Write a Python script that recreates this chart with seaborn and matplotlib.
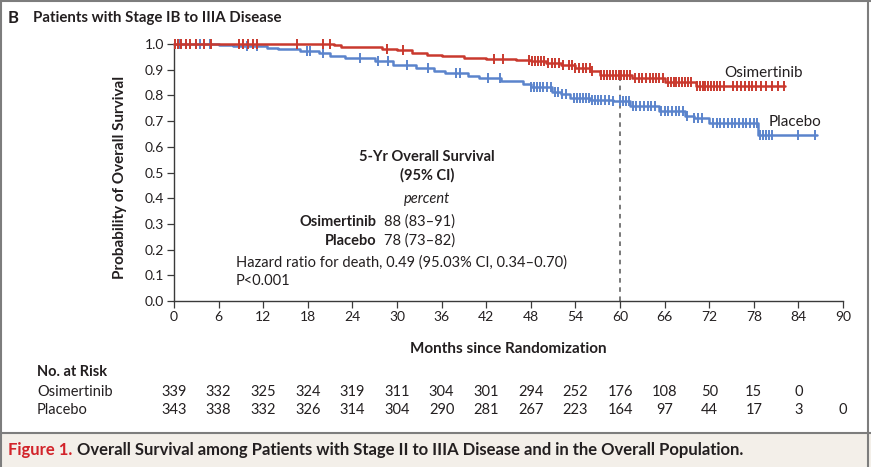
import numpy as np
import pandas as pd
import matplotlib
matplotlib.use("Agg")
import matplotlib.pyplot as plt
import matplotlib.transforms as mtransforms
from matplotlib.patches import Rectangle
from matplotlib.lines import Line2D
import seaborn as sns

# ---------------- data ----------------
osi_time = [0, 21.5, 22.5, 25, 28, 30, 32, 34, 36, 39, 42, 46, 48, 50, 52, 54, 56, 57.3, 61.6, 66, 70.2, 82.2]
osi_surv = [1.0, 0.996, 0.99, 0.987, 0.98, 0.975, 0.965, 0.957, 0.952, 0.947, 0.943, 0.938, 0.932, 0.926,
            0.918, 0.905, 0.895, 0.879, 0.866, 0.852, 0.836, 0.836]
pla_time = [0, 6, 8, 12.5, 14, 17, 19.5, 21, 23, 27, 29.5, 32.5, 35, 36.5, 39.5, 41, 44, 47, 48, 50.8, 52,
            53.3, 56, 59, 61.3, 65.2, 68.8, 70, 72, 78.5, 86.5]
pla_surv = [1.0, 0.997, 0.992, 0.985, 0.98, 0.972, 0.965, 0.955, 0.945, 0.935, 0.92, 0.905, 0.895, 0.887,
            0.877, 0.867, 0.855, 0.845, 0.832, 0.815, 0.805, 0.79, 0.783, 0.777, 0.76, 0.74, 0.72, 0.712,
            0.692, 0.645, 0.645]

osi_censor = [0.2, 0.6, 1.0, 1.6, 2.2, 3.0, 4.0, 5.0, 8.7, 9.3, 10.0, 10.6, 11.2, 16.5, 20.1, 21.0, 28.6, 30.8,
              43.0, 44.2, 47.8, 48.2, 48.6, 49.0, 49.4, 49.8, 50.3, 50.8, 51.3, 51.8, 52.3,
              53.2, 53.6, 54.0, 54.5, 55.0, 55.4, 55.9, 56.3,
              57.4, 57.8, 58.2, 58.6, 59.0, 59.4, 59.8, 60.2, 60.6, 61.0, 61.4,
              62.0, 62.5, 63.0, 63.5, 64.0, 64.4, 64.8, 65.3, 65.8,
              66.4, 66.8, 67.2, 67.6, 68.0, 68.4, 68.8, 69.2, 69.6,
              70.3, 70.7, 71.1, 71.5, 71.9, 72.3, 72.7, 73.1, 73.5, 74.0,
              75.2, 75.8, 76.3, 76.8, 77.3, 77.8, 78.3, 79.0, 79.6, 80.4, 81.2, 82.0]
pla_censor = [0.8, 3.5, 4.8, 9.8, 11.1, 17.9, 18.3, 20.0, 25.0, 27.5, 28.8, 31.3, 34.2, 38.0, 38.5, 42.2, 43.9,
              48.0, 48.4, 48.8, 49.2, 49.7, 50.2, 50.7, 51.2, 51.7, 52.2, 52.8,
              53.8, 54.2, 54.6, 55.0, 55.4, 55.8, 56.2, 56.6, 57.0, 57.5, 58.0, 58.5, 59.0,
              60.0, 60.4, 60.8, 61.2, 61.7, 62.2, 62.7, 63.2, 63.7, 64.2, 64.7,
              65.5, 66.0, 66.5, 67.0, 67.5, 68.0, 68.5, 69.0, 70.0, 70.5, 71.0,
              72.5, 73.0, 73.5, 74.0, 74.5, 75.0, 75.5, 76.0, 76.5, 77.0, 77.5, 78.0, 78.4,
              78.8, 79.2, 79.6, 80.0, 80.4, 84.0, 86.2]

x_ticks = list(range(0, 91, 6))
y_ticks = [0.0, 0.1, 0.2, 0.3, 0.4, 0.5, 0.6, 0.7, 0.8, 0.9, 1.0]
risk_months_osi = list(range(0, 85, 6))
risk_osi = [339, 332, 325, 324, 319, 311, 304, 301, 294, 252, 176, 108, 50, 15, 0]
risk_months_pla = list(range(0, 91, 6))
risk_pla = [343, 338, 332, 326, 314, 304, 290, 281, 267, 223, 164, 97, 44, 17, 3, 0]

RED = "#c9392e"
BLUE = "#5b84cc"
TXT = "#231f20"

# ---------------- style ----------------
sns.set_theme(style="white")
plt.rcParams["font.family"] = ["Lato", "DejaVu Sans"]
plt.rcParams["text.color"] = TXT

W, H = 871, 467
fig = plt.figure(figsize=(W / 100, H / 100), dpi=100)
fig.patch.set_facecolor("white")

def fx(px):
    return px / W

def fy(py):
    return 1 - py / H

ax = fig.add_axes([fx(174), fy(301), fx(843) - fx(174), fy(44) - fy(301)])
ax.set_facecolor("none")


def step_at(times, survs, t):
    idx = np.searchsorted(np.asarray(times), t, side="right") - 1
    return np.asarray(survs)[idx]


df_osi = pd.DataFrame({"t": osi_time, "s": osi_surv})
df_pla = pd.DataFrame({"t": pla_time, "s": pla_surv})
sns.lineplot(data=df_pla, x="t", y="s", drawstyle="steps-post", color=BLUE, lw=1.8, estimator=None,
             ax=ax, clip_on=False, zorder=3)
sns.lineplot(data=df_osi, x="t", y="s", drawstyle="steps-post", color=RED, lw=1.8, estimator=None,
             ax=ax, clip_on=False, zorder=4)

cen_pla = pd.DataFrame({"t": pla_censor, "s": step_at(pla_time, pla_surv, pla_censor)})
cen_osi = pd.DataFrame({"t": osi_censor, "s": step_at(osi_time, osi_surv, osi_censor)})
sns.scatterplot(data=cen_pla, x="t", y="s", marker="|", s=46, color=BLUE, linewidth=1.4, ax=ax,
                clip_on=False, zorder=3)
sns.scatterplot(data=cen_osi, x="t", y="s", marker="|", s=46, color=RED, linewidth=1.4, ax=ax,
                clip_on=False, zorder=4)

# dashed 5-yr line
ax.plot([60, 60], [0, step_at(osi_time, osi_surv, 60)], ls=(0, (3, 3)), color="#555555", lw=1.1, zorder=2)

ax.set_xlim(0, 90)
ax.set_ylim(0, 1.0)
ax.set_xticks(x_ticks)
ax.set_xticklabels([str(v) for v in x_ticks])
ax.set_yticks(y_ticks)
ax.set_yticklabels([f"{v:.1f}" for v in y_ticks])
for side in ["top", "right"]:
    ax.spines[side].set_visible(False)
for side in ["left", "bottom"]:
    ax.spines[side].set_color("#3a3a3a")
    ax.spines[side].set_linewidth(1.0)
ax.tick_params(axis="both", which="major", direction="out", length=5, width=0.9, color="#3a3a3a",
               labelsize=10, labelcolor=TXT, pad=2, bottom=True, left=True)
ax.set_xlabel("")
ax.set_ylabel("")

FS = 10.5
# axis titles
fig.text(fx(508), fy(349), "Months since Randomization", ha="center", va="center",
         fontsize=11, fontweight="bold")
fig.text(fx(120), fy(177), "Probability of Overall Survival", ha="center", va="center",
         rotation=90, fontsize=11, fontweight="bold")

# panel title
fig.text(fx(8), fy(18), "B", ha="left", va="center", fontsize=12, fontweight="bold")
fig.text(fx(33), fy(18), "Patients with Stage IB to IIIA Disease", ha="left", va="center",
         fontsize=10.8, fontweight="bold")

# curve labels
fig.text(fx(763), fy(73), "Osimertinib", ha="center", va="center", fontsize=11)
fig.text(fx(795), fy(122), "Placebo", ha="center", va="center", fontsize=11)

# inset annotation
fig.text(fx(427), fy(157), "5-Yr Overall Survival", ha="center", va="center", fontsize=FS, fontweight="bold")
fig.text(fx(427), fy(175), "(95% CI)", ha="center", va="center", fontsize=FS, fontweight="bold")
fig.text(fx(427), fy(199), "percent", ha="center", va="center", fontsize=FS, style="italic")
fig.text(fx(377), fy(222), "Osimertinib", ha="right", va="center", fontsize=FS, fontweight="bold")
fig.text(fx(384), fy(222), "88 (83\u201391)", ha="left", va="center", fontsize=FS)
fig.text(fx(377), fy(241), "Placebo", ha="right", va="center", fontsize=FS, fontweight="bold")
fig.text(fx(384), fy(241), "78 (73\u201382)", ha="left", va="center", fontsize=FS)
fig.text(fx(236), fy(263), "Hazard ratio for death, 0.49 (95.03% CI, 0.34\u20130.70)", ha="left",
         va="center", fontsize=FS)
fig.text(fx(236), fy(281), "P<0.001", ha="left", va="center", fontsize=FS)

# risk table
trans = mtransforms.blended_transform_factory(ax.transData, fig.transFigure)
fig.text(fx(37), fy(372), "No. at Risk", ha="left", va="center", fontsize=FS, fontweight="bold")
fig.text(fx(37), fy(392), "Osimertinib", ha="left", va="center", fontsize=FS)
fig.text(fx(37), fy(410), "Placebo", ha="left", va="center", fontsize=FS)
for m, v in zip(risk_months_osi, risk_osi):
    ax.text(m, fy(392), str(v), transform=trans, ha="center", va="center", fontsize=FS, clip_on=False)
for m, v in zip(risk_months_pla, risk_pla):
    ax.text(m, fy(410), str(v), transform=trans, ha="center", va="center", fontsize=FS, clip_on=False)

# caption band and frame
fig.patches.append(Rectangle((0, 0), 1, fy(433), transform=fig.transFigure, facecolor="#f3efe9",
                             edgecolor="none", zorder=0))
frame_c = "#7d7d7d"
fig.lines.append(Line2D([0, 1], [fy(433), fy(433)], transform=fig.transFigure, color=frame_c, lw=1.5))
fig.lines.append(Line2D([0, 1], [fy(1), fy(1)], transform=fig.transFigure, color=frame_c, lw=1.5))
fig.lines.append(Line2D([fx(1), fx(1)], [0, 1], transform=fig.transFigure, color=frame_c, lw=1.5))
fig.lines.append(Line2D([fx(868), fx(868)], [0, 1], transform=fig.transFigure, color=frame_c, lw=1.5))

t1 = fig.text(fx(8), fy(450), "Figure 1.", ha="left", va="center", fontsize=12, fontweight="bold",
              color="#d2232a")
fig.canvas.draw()
bb = t1.get_window_extent()
fig.text((bb.x1 + 5) / W, fy(450), "Overall Survival among Patients with Stage II to IIIA Disease and in the Overall Population.",
         ha="left", va="center", fontsize=12, fontweight="bold", color=TXT)

fig.savefig("out.png", dpi=100)
